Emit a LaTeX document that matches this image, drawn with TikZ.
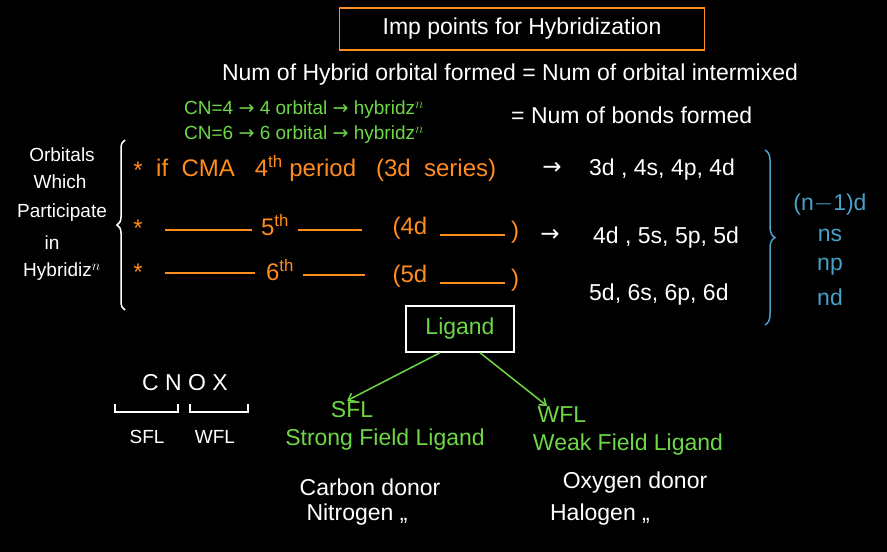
\documentclass[tikz,border=0pt]{standalone}
\usepackage{fontspec}
\setmainfont{Liberation Sans}
\newfontfamily\symfont{DejaVu Sans}
\usetikzlibrary{decorations.pathreplacing, arrows.meta}
\definecolor{hworange}{RGB}{255,140,30}
\definecolor{hwgreen}{RGB}{110,215,70}
\definecolor{hwblue}{RGB}{70,160,200}
\newcommand{\ar}{{\symfont→}}
\tikzset{
  wtxt/.style={text=white, inner sep=1pt, font=\fontsize{23}{27}\selectfont},
  otxt/.style={text=hworange, inner sep=1pt, font=\fontsize{24}{28}\selectfont},
  gtxt/.style={text=hwgreen, inner sep=1pt, font=\fontsize{23}{27}\selectfont},
  gsmall/.style={text=hwgreen, inner sep=1pt, font=\fontsize{19}{22}\selectfont},
  btxt/.style={text=hwblue, inner sep=1pt, font=\fontsize{23}{27}\selectfont},
  wsmall/.style={text=white, inner sep=1pt, font=\fontsize{19}{22}\selectfont},
  dashline/.style={hworange, line width=1.5pt},
  ligarrow/.style={hwgreen, line width=1.5pt, -{Straight Barb[length=6pt,width=9pt]}},
}
\begin{document}
\begin{tikzpicture}[x=1pt,y=-1pt]
  \fill[black] (0,0) rectangle (887,552);
  \useasboundingbox (0,0) rectangle (887,552);

  % title
  \node[wtxt, draw=hworange, line width=1.5pt, minimum width=365, minimum height=42] (title) at (522,29) {Imp points for Hybridization};
  \node[wtxt] (numhyb) at (510,75) {Num of Hybrid orbital formed = Num of orbital intermixed};
  \node[gsmall, anchor=west] (cnfour) at (183,110) {CN=4 \ar\ 4 orbital \ar\ hybridz$^n$};
  \node[gsmall, anchor=west] (cnsix) at (183,135) {CN=6 \ar\ 6 orbital \ar\ hybridz$^n$};
  \node[wtxt, anchor=west] (bonds) at (510,115) {= Num of bonds formed};

  % left label
  \node[wsmall] (orb1) at (62,155) {Orbitals};
  \node[wsmall] (orb2) at (60,182) {Which};
  \node[wsmall] (orb3) at (62,213) {Participate};
  \node[wsmall] (orb4) at (52,243) {in};
  \node[wsmall] (orb5) at (62,272) {Hybridiz$^n$};
  \draw[white, line width=1.5pt, decorate, decoration={brace, amplitude=8pt}]
    (125,310) -- (125,140);

  % rows
  \node[otxt] (starone) at (138,170) {*};
  \node[otxt, anchor=west] (rowone) at (155,168) {if \ CMA \ \ 4$^{\mathrm{th}}$ period \ \ (3d \ series)};
  \node[wtxt] (arrone) at (552,168) {\ar};
  \node[wtxt, anchor=west] (shellone) at (588,170) {3d , 4s, 4p, 4d};

  \node[otxt] (startwo) at (138,228) {*};
  \node[otxt] (fifth) at (275,225) {5$^{\mathrm{th}}$};
  \node[otxt] (fourd) at (410,228) {(4d};
  \node[otxt] (closetwo) at (515,232) {)};
  \draw[dashline] (165,230) -- (252,230);
  \draw[dashline] (298,230) -- (362,230);
  \draw[dashline] (440,235) -- (505,235);
  \node[wtxt] (arrtwo) at (550,235) {\ar};
  \node[wtxt, anchor=west] (shelltwo) at (592,238) {4d , 5s, 5p, 5d};

  \node[otxt] (starthree) at (138,272) {*};
  \node[otxt] (sixth) at (280,270) {6$^{\mathrm{th}}$};
  \node[otxt] (fived) at (410,276) {(5d};
  \node[otxt] (closethree) at (515,280) {)};
  \draw[dashline] (165,273) -- (255,273);
  \draw[dashline] (303,275) -- (365,275);
  \draw[dashline] (440,283) -- (505,283);
  \node[wtxt, anchor=west] (shellthree) at (588,295) {5d, 6s, 6p, 6d};

  \draw[hwblue, line width=1.5pt, decorate, decoration={brace, amplitude=10pt}]
    (765,150) -- (765,325);
  \node[btxt] (nmone) at (830,205) {(n$-$1)d};
  \node[btxt] (ns) at (830,235) {ns};
  \node[btxt] (np) at (830,267) {np};
  \node[btxt] (nd) at (830,297) {nd};

  % ligand
  \node[gtxt, draw=white, line width=1.5pt, minimum width=108, minimum height=46] (ligand) at (460,329) {Ligand};
  \node[gtxt] (sfl) at (352,410) {SFL};
  \node[gtxt] (strong) at (385,440) {Strong Field Ligand};
  \node[gtxt] (wfl) at (562,415) {WFL};
  \node[gtxt] (weak) at (628,445) {Weak Field Ligand};
  \draw[ligarrow] ([xshift=-20pt]ligand.south) -- ([xshift=-5pt]sfl.north);
  \draw[ligarrow] ([xshift=20pt]ligand.south) -- ([xshift=-15pt]wfl.north);
  \node[wtxt] (carbon) at (370,487) {Carbon donor};
  \node[wtxt] (nitrogen) at (357,515) {Nitrogen ,,};
  \node[wtxt] (oxygen) at (635,483) {Oxygen donor};
  \node[wtxt] (halogen) at (600,515) {Halogen ,,};

  % CNOX
  \node[wtxt] (cnox) at (185,383) {C N O X};
  \draw[white, line width=1.5pt] (115,404) -- (115,412) -- (178,412) -- (178,404);
  \draw[white, line width=1.5pt] (190,404) -- (190,412) -- (248,412) -- (248,404);
  \node[wsmall] (sflsmall) at (147,437) {SFL};
  \node[wsmall] (wflsmall) at (215,437) {WFL};
\end{tikzpicture}
\end{document}
